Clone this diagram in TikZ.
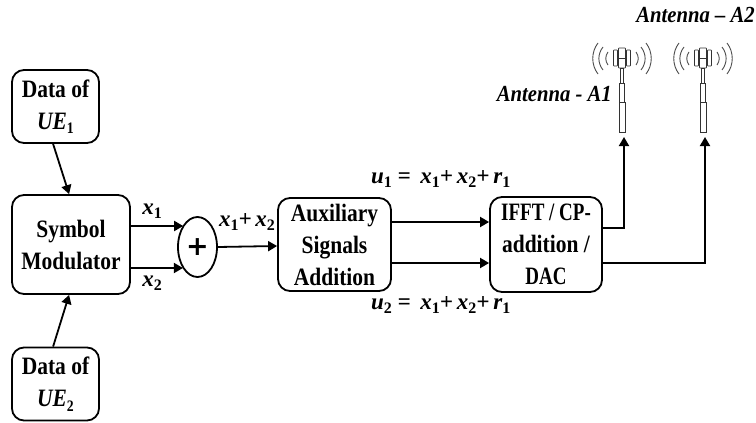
\documentclass[tikz,border=0pt]{standalone}
\usepackage{fontspec}
\setmainfont{Liberation Serif}
\newfontfamily\plusfont{DejaVu Sans}
\usetikzlibrary{arrows.meta,calc,shapes.geometric}
\tikzset{
  blockbox/.style={draw,line width=1.8pt,rounded corners=12pt,inner sep=0pt,align=center,font=\fs},
  conn/.style={line width=1.8pt,-{Triangle[length=9pt,width=10pt]}},
  mlabel/.style={inner sep=0pt,font=\fm},
  anttext/.style={inner sep=0pt,font=\fa},
  antline/.style={line width=0.8pt,draw=black!80},
  wave/.style={line width=0.9pt,draw=black!70}
}
\newcommand{\fs}{\fontsize{25}{32}\selectfont\bfseries\addfontfeature{FakeStretch=0.86}}
\newcommand{\fn}{\addfontfeature{FakeStretch=0.76}}
\newcommand{\fm}{\fontsize{23}{27}\selectfont\bfseries\itshape}
\newcommand{\fa}{\fontsize{23}{27}\selectfont\bfseries\itshape\addfontfeature{FakeStretch=0.9}}
\newcommand{\subn}[1]{\raisebox{-4.5pt}{\fontsize{16}{16}\selectfont\upshape #1}}
\newcommand{\antenna}[2]{%
  \begin{scope}[shift={(#1,47)}]
    \coordinate (#2) at (0,88);
    \draw[antline] (-1.5,21) rectangle (1.5,36);
    \draw[antline] (-2.6,36) rectangle (2.6,55);
    \draw[antline] (-3,55) rectangle (3,85);
    \draw[antline,rounded corners=0.6pt] (-3.5,1) rectangle (3.5,21);
    \draw[antline,rounded corners=0.6pt] (-8.5,3) rectangle (-4.5,19);
    \draw[antline,rounded corners=0.6pt] (4.5,3) rectangle (8.5,19);
    \draw[antline] (-4.5,11) -- (4.5,11);
    \foreach \s in {-1,1}{
      \begin{scope}[xscale=\s]
        \draw[wave] (14,5) .. controls (17,9) and (17,14) .. (14,18);
        \draw[wave] (19,0) .. controls (24.5,7) and (24.5,16) .. (19,23);
        \draw[wave] (24,-4) .. controls (31,5) and (31,18) .. (24,27);
      \end{scope}
    }
  \end{scope}}
\begin{document}
\begin{tikzpicture}[x=1pt,y=-1pt]
\useasboundingbox (0,0) rectangle (756,423);
\node[blockbox,minimum width=87pt,minimum height=73pt] (ue1) at (55.5,106.5) {Data of\\\textit{UE}\subn{1}};
\node[blockbox,minimum width=118pt,minimum height=99pt] (sm) at (71,244.5) {Symbol\\Modulator};
\node[blockbox,minimum width=87pt,minimum height=73pt] (ue2) at (55.5,384) {Data of\\\textit{UE}\subn{2}};
\node[draw,ellipse,line width=1.8pt,minimum width=39pt,minimum height=60pt,inner sep=0pt,font=\plusfont\fontsize{27}{27}\selectfont\bfseries] (sum) at (197.5,247) {+};
\node[blockbox,minimum width=113pt,minimum height=93pt] (aux) at (334.5,244.5) {Auxiliary\\Signals\\Addition};
\node[blockbox,minimum width=112pt,minimum height=95pt] (ifft) at (546,244.5) {{\fn IFFT / CP-}\\addition /\\{\fn DAC}};
\antenna{622}{a1}
\antenna{703}{a2}
\coordinate (c1) at (a1 |- 0,228);
\coordinate (c2) at (a2 |- 0,263);
\draw[conn] (ue1.south west) ++(42,0) -- ($(sm.north west)+(58,0)$);
\draw[conn] (ue2.north west) ++(42,0) -- ($(sm.south west)+(58,0)$);
\draw[conn] (sm.east |- 0,226) -- (sum.123.5 |- 0,226);
\draw[conn] (sm.east |- 0,268) -- (sum.236.5 |- 0,268);
\draw[conn] (sum.east) -- (aux.west |- 0,246);
\draw[conn] (aux.east |- 0,222) -- (ifft.west |- 0,222);
\draw[conn] (aux.east |- 0,263) -- (ifft.west |- 0,263);
\draw[conn] (ifft.east |- c1) -| ($(a1)+(2,2)$);
\draw[conn] (ifft.east |- c2) -| ($(a2)+(2,2)$);
\node[mlabel] (lx1) at (152,211) {x\subn{1}};
\node[mlabel] (lx2) at (152,283) {x\subn{2}};
\node[mlabel] (lsum) at (247,222) {x\subn{1}+\,x\subn{2}};
\node[mlabel,anchor=west] (lu1) at (371,179) {u\subn{1} =\, x\subn{1}+\,x\subn{2}+\,r\subn{1}};
\node[mlabel,anchor=west] (lu2) at (371,305) {u\subn{2} =\, x\subn{1}+\,x\subn{2}+\,r\subn{1}};
\node[anttext,anchor=east] (la1) at (612,94) {Antenna - A1};
\node[anttext,anchor=east] (la2) at (755,15) {Antenna – A2};
\end{tikzpicture}
\end{document}
